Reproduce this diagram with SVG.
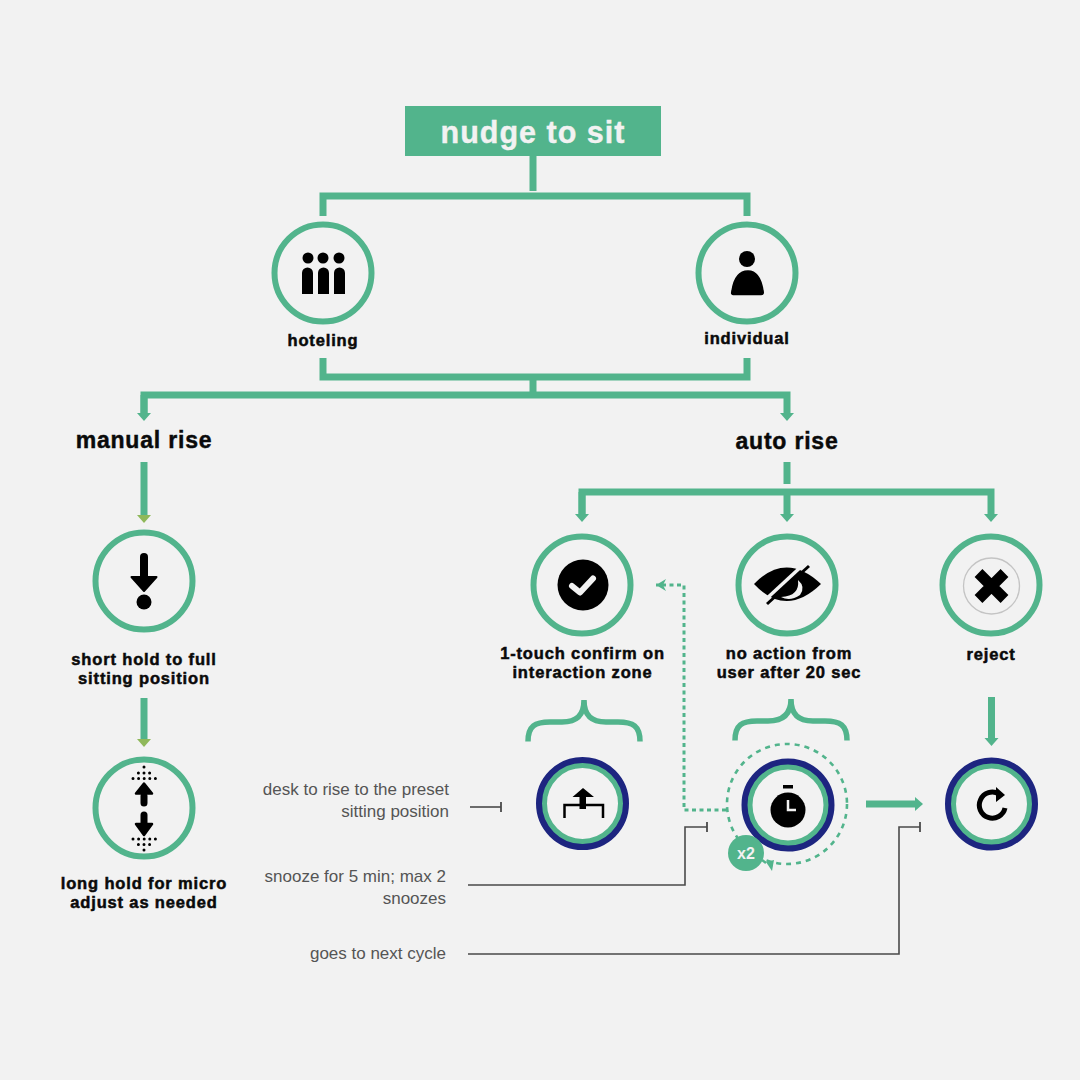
<svg xmlns="http://www.w3.org/2000/svg" width="1080" height="1080" viewBox="0 0 1080 1080">
<style>
.g{fill:none;stroke:#52b48c;stroke-width:7}
.b{fill:none;stroke:#52b48c;stroke-width:5.500}
.r{fill:#f2f2f2;stroke:#52b48c;stroke-width:6}
.n{fill:none;stroke:#1d2580;stroke-width:8}
.i{fill:none;stroke:#52b48c;stroke-width:5}
.l{font-family:"Liberation Sans",Arial,sans-serif;font-weight:700;font-size:16.500px;fill:#0a0a0a;stroke:#0a0a0a;stroke-width:.5;text-anchor:middle;letter-spacing:.85px}
.h{font-family:"Liberation Sans",Arial,sans-serif;font-weight:700;font-size:23px;fill:#0a0a0a;stroke:#0a0a0a;stroke-width:.45;text-anchor:middle;letter-spacing:.8px}
.t{font-family:"Liberation Sans",Arial,sans-serif;font-size:17px;fill:#555;text-anchor:end}
.c{fill:none;stroke:#4a4a4a;stroke-width:1.600}
.d{fill:none;stroke:#52b48c;stroke-width:3;stroke-dasharray:4 3.500}
.k{fill:#000}
.s{fill:none;stroke:#000;stroke-linecap:round}
.p{fill:none;stroke:#000;stroke-width:3;stroke-linecap:round;stroke-dasharray:0 5.600}
</style>
<defs>
<marker id="a" markerUnits="userSpaceOnUse" markerWidth="9" markerHeight="15" refX="0" refY="7.500" orient="auto"><path d="M0 .5L8 7.500L0 14.500Z" fill="#52b48c"/></marker>
<marker id="o" markerUnits="userSpaceOnUse" markerWidth="9" markerHeight="15" refX="0" refY="7.500" orient="auto"><path d="M0 .5L8 7.500L0 14.500Z" fill="#8fb85a"/></marker>
<marker id="e" markerUnits="userSpaceOnUse" markerWidth="4" markerHeight="10" refX="2" refY="5" orient="auto"><path d="M2 0V10" stroke="#4a4a4a" stroke-width="1.800"/></marker>
<marker id="da" markerUnits="userSpaceOnUse" markerWidth="12" markerHeight="12" refX="10" refY="6" orient="auto"><path d="M0 0L10 6L0 12L3 6Z" fill="#52b48c"/></marker>
</defs>
<rect width="1080" height="1080" fill="#f2f2f2"/>

<g id="connectors">
<path class="g" d="M533 156V191M323 216V196H747V216"/>
<path class="g" d="M323 358V377H747V358M533 377V395"/>
<path class="g" d="M144 413V395H787V413" marker-end="url(#a)"/>
<path class="g" d="M144 395V413" marker-end="url(#a)"/>
<path class="g" d="M144 462V515" marker-end="url(#o)"/>
<path class="g" d="M144 698V739" marker-end="url(#o)"/>
<path class="g" d="M787 462V484"/>
<path class="g" d="M582 514V492H991V514" marker-end="url(#a)"/>
<path class="g" d="M582 492V514" marker-end="url(#a)"/>
<path class="g" d="M787 492V514" marker-end="url(#a)"/>
<path class="g" d="M991.500 697V738" marker-end="url(#a)"/>
<path class="g" d="M866 804H915" marker-end="url(#a)"/>
<path class="b" d="M528 741.500C528 726 535 722 550 722H562C576 722 584 716 584 700C584 716 592 722 606 722H618C633 722 640 726 640 741.500"/>
<path class="b" d="M735 740.500C735 725 742 721 757 721H768C782 721 791 715 791 699C791 715 799 721 813 721H825C840 721 847 725 847 740.500"/>
<path class="d" d="M726 810H684V585H656" marker-end="url(#da)"/>
<path class="c" d="M470 807H501" marker-end="url(#e)"/>
<path class="c" d="M468 885H685V827H707" marker-end="url(#e)"/>
<path class="c" d="M468 954H899V827H920" marker-end="url(#e)"/>
</g>

<g id="title">
<rect x="405" y="106" width="256" height="50" fill="#52b48c"/>
<text x="533" y="143" text-anchor="middle" font-family="'Liberation Sans',Arial,sans-serif" font-weight="700" font-size="30.500px" letter-spacing="1" fill="#f2f2f2" stroke="#f2f2f2" stroke-width=".4">nudge to sit</text>
</g>

<g id="hoteling">
<circle class="r" cx="323" cy="273" r="48.500"/>
<circle class="k" cx="308" cy="258" r="5.500"/><circle class="k" cx="323" cy="258" r="5.500"/><circle class="k" cx="339" cy="258" r="5.500"/>
<path class="k" d="M302 294V273a5.500 5.500 0 0 1 11 0V294ZM318 294V273a5.500 5.500 0 0 1 11 0V294ZM334 294V273a5.500 5.500 0 0 1 11 0V294Z"/>
<text class="l" x="323" y="346">hoteling</text>
</g>
<g id="individual">
<circle class="r" cx="747" cy="273" r="48.500"/>
<circle class="k" cx="747" cy="259" r="8"/>
<path class="k" d="M733 294.500Q731 294.500 732 291Q735 271 748 271Q760 271 763 291Q764 294.500 761 294.500Z" stroke="#000" stroke-width="1.500" stroke-linejoin="round"/>
<text class="l" x="747" y="344">individual</text>
</g>

<g id="manual-rise"><text class="h" x="144" y="448">manual rise</text></g>
<g id="auto-rise"><text class="h" x="787" y="449">auto rise</text></g>

<g id="short-hold">
<circle class="r" cx="144" cy="581" r="48.500"/>
<path class="s" stroke-width="8" d="M144 557V580"/>
<path class="k" d="M131.500 577H156.500L144 591Z" stroke="#000" stroke-width="2" stroke-linejoin="round"/>
<circle class="k" cx="144" cy="602" r="7.500"/>
<text class="l" x="144" y="665">short hold to full</text>
<text class="l" x="144" y="684">sitting position</text>
</g>
<g id="long-hold">
<circle class="r" cx="144" cy="808" r="48.500"/>
<path class="s" stroke-width="7" d="M144 796V803M144 815V824"/>
<path class="k" d="M136 793.500H152L144 783.500Z" stroke="#000" stroke-width="2.500" stroke-linejoin="round"/>
<path class="k" d="M136 824H152L144 835Z" stroke="#000" stroke-width="2.500" stroke-linejoin="round"/>
<path class="p" d="M144 767h.1M138.400 773H150M133 778.500H156M133 839H156M138.400 844.500H150M144 850h.1"/>
<text class="l" x="144" y="889">long hold for micro</text>
<text class="l" x="144" y="908">adjust as needed</text>
</g>

<g id="confirm">
<circle class="r" cx="582" cy="585" r="48.500"/>
<circle class="k" cx="583" cy="585" r="25.500"/>
<path d="M572 586L580 592.500L593 578.500" fill="none" stroke="#f2f2f2" stroke-width="6" stroke-linecap="round" stroke-linejoin="round"/>
<text class="l" x="582.500" y="659">1-touch confirm on</text>
<text class="l" x="582.500" y="678">interaction zone</text>
</g>
<g id="no-action">
<circle class="r" cx="787" cy="585" r="48.500"/>
<path class="k" d="M754 584Q786 551 821 584Q786 618 754 584Z"/>
<path fill="#f2f2f2" d="M798 580Q800 596 781 597Q790 602 800 595Q806 587 798 580Z"/>
<path d="M764 601L804 564" stroke="#f2f2f2" stroke-width="3.500"/>
<path d="M767 604L809 566" stroke="#000" stroke-width="3"/>
<text class="l" x="789" y="659">no action from</text>
<text class="l" x="789" y="678">user after 20 sec</text>
</g>
<g id="reject">
<circle class="r" cx="991" cy="585" r="48.500"/>
<circle cx="991.500" cy="586" r="28" fill="none" stroke="#c4c4c4" stroke-width="1.300"/>
<path d="M978.500 573L1004.500 599M1004.500 573L978.500 599" stroke="#000" stroke-width="11"/>
<text class="l" x="991" y="660">reject</text>
</g>

<g id="desk-rise">
<circle class="n" cx="582.500" cy="803.500" r="42.500"/>
<circle class="i" cx="582.500" cy="803.500" r="38"/>
<path class="k" d="M572.500 797L583 788L594 797H586V809H579.500V797Z"/>
<path fill="none" stroke="#000" stroke-width="2.500" d="M564.500 818V805H603V818"/>
</g>
<g id="snooze">
<circle class="d" cx="787" cy="804" r="60" style="stroke-width:2.600;stroke-dasharray:5 5"/>
<circle class="n" cx="788" cy="805" r="42.500"/>
<circle class="i" cx="788" cy="805" r="38"/>
<circle class="k" cx="788" cy="810" r="17.500"/>
<rect class="k" x="783" y="785" width="10" height="3.500"/>
<path fill="none" stroke="#f2f2f2" stroke-width="2.500" d="M788 800V810H796"/>
<circle cx="746" cy="853" r="18" fill="#52b48c"/>
<text x="746" y="859" text-anchor="middle" font-family="'Liberation Sans',Arial,sans-serif" font-weight="700" font-size="16px" fill="#f2f2f2">x2</text>
<path fill="#52b48c" d="M766 862L774 860L772 871Z"/>
<path stroke="#52b48c" stroke-width="2.500" d="M762 860L766 863"/>
</g>
<g id="next-cycle">
<circle class="n" cx="991.500" cy="804" r="42.500"/>
<circle class="i" cx="991.500" cy="804" r="38"/>
<path fill="none" stroke="#000" stroke-width="5" d="M999 794A13 13 0 1 0 1005 808"/>
<path class="k" d="M996 787L1005 795L996 802Z"/>
</g>

<g id="notes">
<text class="t" x="449" y="795">desk to rise to the preset</text>
<text class="t" x="449" y="817">sitting position</text>
<text class="t" x="446" y="882">snooze for 5 min; max 2</text>
<text class="t" x="446" y="904">snoozes</text>
<text class="t" x="446" y="959">goes to next cycle</text>
</g>
</svg>
